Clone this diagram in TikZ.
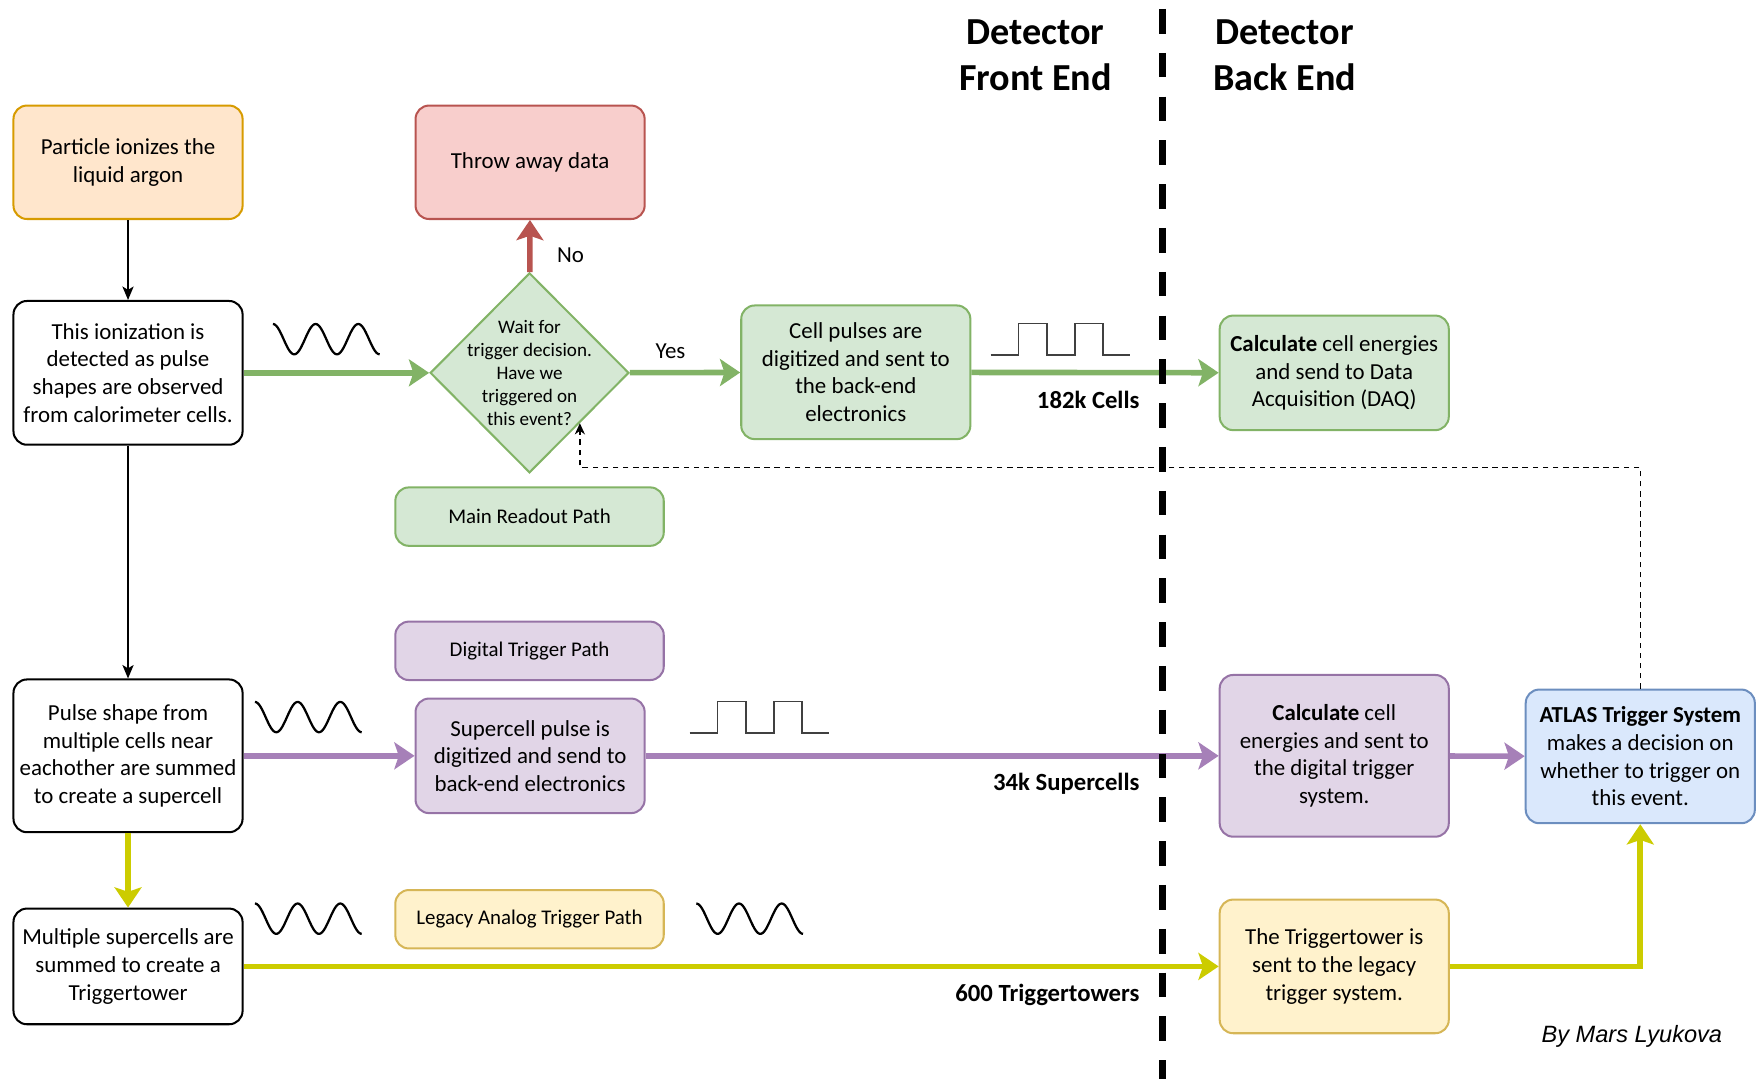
\documentclass[tikz,border=0pt]{standalone}
\usepackage{fontspec}
\setmainfont{Carlito}
\newfontfamily\signfont{Liberation Sans}
\usetikzlibrary{arrows.meta,shapes.geometric}
\definecolor{grFill}{HTML}{D5E8D4}\definecolor{grLine}{HTML}{82B366}
\definecolor{rdFill}{HTML}{F8CECC}\definecolor{rdLine}{HTML}{B85450}
\definecolor{orFill}{HTML}{FFE6CC}\definecolor{orLine}{HTML}{D79B00}
\definecolor{puFill}{HTML}{E1D5E7}\definecolor{puLine}{HTML}{9673A6}
\definecolor{puArrow}{HTML}{A680B8}
\definecolor{blFill}{HTML}{DAE8FC}\definecolor{blLine}{HTML}{6C8EBF}
\definecolor{yeFill}{HTML}{FFF2CC}\definecolor{yeLine}{HTML}{D6B656}
\definecolor{yeArrow}{HTML}{CCCC00}

\begin{document}
\begin{tikzpicture}[x=0.5pt, y=-0.5pt,
		font=\fontsize{10.2}{12.3}\selectfont,
		box/.style = {rectangle, rounded corners=6pt, draw, line width=0.9pt,
			align=center, inner sep=1pt, minimum width=102pt, #1},% boxes of the flow
		tag/.style = {box={minimum width=119.5pt, minimum height=26pt,
			font=\fontsize{9.3}{11}\selectfont}, #1},% path names
		count/.style = {anchor=east, inner sep=0pt, font=\fontsize{11}{13}\selectfont\bfseries},
		link/.style = {line width=2.5pt, draw=#1,
			-{Stealth[length=9pt, width=12pt, inset=2pt]}},% coloured paths
		flow/.style = {line width=0.6pt, -{Stealth[length=6pt, width=5pt, inset=1.5pt]}},
		wave/.style = {line width=1pt, line join=round},
		pulse/.style = {line width=0.7pt, draw=black!75},
		]
		\useasboundingbox (0,0) rectangle (1568,961);
		% left column
		\node[box={fill=orFill, draw=orLine, minimum height=50.5pt}] (particle) at (114,144.5) {Particle ionizes the\\liquid argon};
		\node[box={minimum height=64pt}] (ionize) at (114,332) {This ionization is\\detected as pulse\\shapes are observed\\from calorimeter cells.};
		\node[box={minimum height=68pt}] (sumcells) at (114,673) {Pulse shape from\\multiple cells near\\eachother are summed\\to create a supercell};
		\node[box={minimum height=51.5pt}] (sumsc) at (114,860.5) {Multiple supercells are\\summed to create a\\Triggertower};
		% readout path
		\node[box={fill=rdFill, draw=rdLine, minimum height=50.5pt}] (throw) at (472,144.5) {Throw away data};
		\node[diamond, draw=grLine, fill=grFill, line width=0.9pt, align=center,
			minimum width=88.5pt, minimum height=89pt, inner sep=-7pt,
			font=\fontsize{8.5}{10.2}\selectfont] (decision) at (471.5,332)
			{Wait for\\trigger decision.\\Have we\\triggered on\\this event?};
		\node (no) at (508,227) {No};
		\node (yes) at (597,313) {Yes};
		\node[box={fill=grFill, draw=grLine, minimum height=59.5pt}] (cellpulse) at (762,331.5) {Cell pulses are\\digitized and sent to\\the back-end\\electronics};
		\node[box={fill=grFill, draw=grLine, minimum height=51pt}] (daq) at (1188,332) {\textbf{Calculate} cell energies\\and send to Data\\Acquisition (DAQ)};
		\node[tag={fill=grFill, draw=grLine}] (mainpath) at (471.5,460) {Main Readout Path};
		% trigger paths
		\node[tag={fill=puFill, draw=puLine}] (digipath) at (471.5,579.5) {Digital Trigger Path};
		\node[box={fill=puFill, draw=puLine, minimum height=51pt}] (supercell) at (472,673) {Supercell pulse is\\digitized and send to\\back-end electronics};
		\node[box={fill=puFill, draw=puLine, minimum height=72pt}] (calcdig) at (1188,673) {\textbf{Calculate} cell\\energies and sent to\\the digital trigger\\system.};
		\node[box={fill=blFill, draw=blLine, minimum height=59.5pt}] (atlas) at (1460.5,673.5) {\textbf{ATLAS Trigger System}\\makes a decision on\\whether to trigger on\\this event.};
		\node[tag={fill=yeFill, draw=yeLine}] (legacypath) at (471.5,818.5) {Legacy Analog Trigger Path};
		\node[box={fill=yeFill, draw=yeLine, minimum height=59.5pt}] (tower) at (1188,860.5) {The Triggertower is\\sent to the legacy\\trigger system.};
		% headings and counts
		\node[align=center, font=\fontsize{17}{20.5}\selectfont\bfseries] (fronthead) at (922,49) {Detector\\Front End};
		\node[align=center, font=\fontsize{17}{20.5}\selectfont\bfseries] (backhead) at (1144,49) {Detector\\Back End};
		\node[count] (ncells) at (1015,356) {182k Cells};
		\node[count] (nsuper) at (1015,698) {34k Supercells};
		\node[count] (ntower) at (1015,886) {600 Triggertowers};
		\node[font=\signfont\itshape\fontsize{10.5}{12}\selectfont] (author) at (1453,923) {By Mars Lyukova};
		% connectors
		\draw[flow] (particle) -- (ionize);
		\draw[flow] (ionize) -- (sumcells);
		\draw[link=grLine] (ionize) -- (decision);
		\draw[link=grLine] (decision) -- (cellpulse);
		\draw[link=grLine] (cellpulse) -- (daq);
		\draw[link=rdLine] (decision) -- (throw);
		\draw[link=puArrow] (sumcells) -- (supercell);
		\draw[link=puArrow] (supercell) -- (calcdig);
		\draw[link=puArrow] (calcdig) -- (atlas);
		\draw[link=yeArrow] (sumcells) -- (sumsc);
		\draw[link=yeArrow] (sumsc) -- (tower);
		\draw[link=yeArrow] (tower) -| (atlas);
		\coordinate (fbcorner) at (1460.5,416);
		\draw[line width=0.6pt, dash pattern=on 2.5pt off 2pt, -{Stealth[length=5pt, width=4.5pt]}]
			(atlas.north) -- (fbcorner) -| (decision.-45);
		% signal shapes
		\foreach \wx/\wy in {243/302, 227/638.5, 227/818, 620/818}
		\draw[wave] plot[domain=0:900, samples=91] ({\wx+\x/9.47}, {\wy-13.5*cos(\x)});
		\foreach \sx/\sy in {882/302, 614/638.5}
		\draw[pulse] (\sx,\sy+14) -- ++(25,0) -- ++(0,-28) -- ++(25,0) -- ++(0,28)
			-- ++(25,0) -- ++(0,-28) -- ++(25,0) -- ++(0,28) -- ++(24,0);
		% front end / back end border
		\draw[line width=3pt, dash pattern=on 11pt off 8.5pt] (1035,8) -- (1035,961);
	\end{tikzpicture}
\end{document}
